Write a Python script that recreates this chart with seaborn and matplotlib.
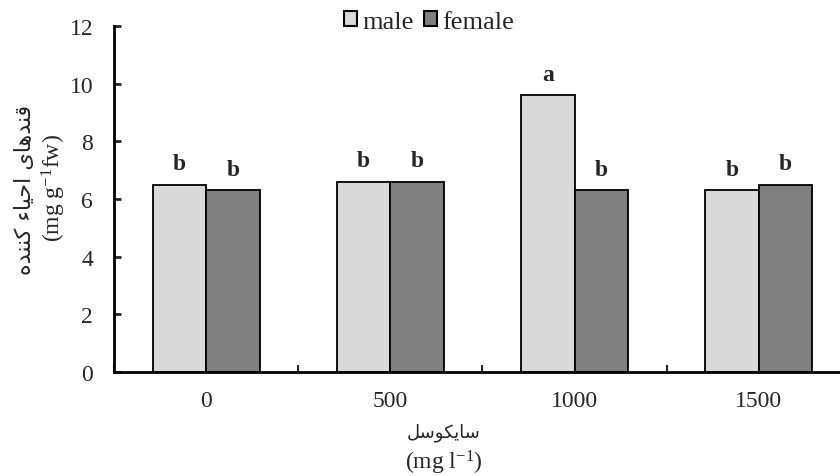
import numpy as np
import pandas as pd
import seaborn as sns
import matplotlib.pyplot as plt
from matplotlib.patches import Patch

# Data
conc = ['0', '500', '1000', '1500']
sexes = ['male', 'female']
male_vals = [6.5, 6.6, 9.6, 6.3]
female_vals = [6.3, 6.6, 6.3, 6.5]
male_letters = ['b', 'b', 'a', 'b']
female_letters = ['b', 'b', 'b', 'b']
bar_colors = ['#d9d9d9', '#808080']

ylabel_fa = 'قندهای احیاء کننده'
ylabel_en = '(mg g$^{-1}$fw)'
xlabel_fa = 'سایکوسل'
xlabel_en = '(mg l$^{-1}$)'

# matplotlib has no bidi/shaping, so map Persian letters to their
# presentation forms and reverse for left-to-right drawing
FORMS = {
    'ا': ('\uFE8D', '\uFE8E', None, None),
    'ء': ('\uFE80', None, None, None),
    'ح': ('\uFEA1', '\uFEA2', '\uFEA3', '\uFEA4'),
    'د': ('\uFEA9', '\uFEAA', None, None),
    'س': ('\uFEB1', '\uFEB2', '\uFEB3', '\uFEB4'),
    'ق': ('\uFED5', '\uFED6', '\uFED7', '\uFED8'),
    'ل': ('\uFEDD', '\uFEDE', '\uFEDF', '\uFEE0'),
    'ن': ('\uFEE5', '\uFEE6', '\uFEE7', '\uFEE8'),
    'ه': ('\uFEE9', '\uFEEA', '\uFEEB', '\uFEEC'),
    'و': ('\uFEED', '\uFEEE', None, None),
    'ی': ('\uFBFC', '\uFBFD', '\uFBFE', '\uFBFF'),
    'ک': ('\uFB8E', '\uFB8F', '\uFB90', '\uFB91'),
}


def shape_fa(text):
    out = []
    n = len(text)
    for i, c in enumerate(text):
        if c not in FORMS:
            out.append(c)
            continue
        f = FORMS[c]
        prev = text[i - 1] if i > 0 else None
        nxt = text[i + 1] if i < n - 1 else None
        conn_prev = prev in FORMS and FORMS[prev][2] is not None and f[1] is not None
        conn_next = nxt in FORMS and f[2] is not None and FORMS[nxt][1] is not None
        if conn_prev and conn_next:
            out.append(f[3])
        elif conn_prev:
            out.append(f[1])
        elif conn_next:
            out.append(f[2])
        else:
            out.append(f[0])
    return ''.join(out)[::-1]


df = pd.DataFrame({
    'conc': conc * 2,
    'sex': [sexes[0]] * len(conc) + [sexes[1]] * len(conc),
    'value': male_vals + female_vals,
})

sns.set_style('white')
plt.rcParams['font.family'] = ['Liberation Serif', 'DejaVu Sans']
plt.rcParams['mathtext.fontset'] = 'custom'
plt.rcParams['mathtext.rm'] = 'Liberation Serif'
plt.rcParams['mathtext.it'] = 'Liberation Serif:italic'
plt.rcParams['mathtext.bf'] = 'Liberation Serif:bold'

fig = plt.figure(figsize=(8.4, 4.77), dpi=100)
ax = fig.add_axes([0.1357, 0.218, 0.8774, 0.725])

sns.barplot(data=df, x='conc', y='value', hue='sex', order=conc, hue_order=sexes,
            palette=bar_colors, width=0.58, edgecolor='black', linewidth=1.3,
            saturation=1, legend=False, ax=ax)

for cont, letters in zip(ax.containers, [male_letters, female_letters]):
    ax.bar_label(cont, labels=letters, padding=7.5, fontsize=17, fontweight='bold')

ax.set_ylim(0, 12)
ax.set_yticks(np.arange(0, 13, 2))
ax.set_xlim(-0.5, 3.5)
ax.set_xticks(np.arange(-0.5, 4, 1), minor=True)
ax.tick_params(axis='x', which='major', length=0, pad=13, labelsize=17)
ax.tick_params(axis='x', which='minor', direction='in', length=5, width=1.5, bottom=True)
ax.tick_params(axis='y', direction='in', length=5, width=2, left=True, pad=15, labelsize=17)
ax.set_xlabel('')
ax.set_ylabel('')

sns.despine(ax=ax)
for s in ['left', 'bottom']:
    ax.spines[s].set_linewidth(2)
    ax.spines[s].set_color('black')

handles = [Patch(facecolor=c, edgecolor='black', linewidth=1.5) for c in bar_colors]
fig.legend(handles, sexes, loc='center', bbox_to_anchor=(429 / 840, 1 - 23 / 477), ncol=2,
           frameon=False, fontsize=19, handlelength=0.5, handleheight=0.5,
           handletextpad=0.2, columnspacing=0.4, borderpad=0)

fig.text(25 / 840, 1 - 190 / 477, shape_fa(ylabel_fa), rotation=90, ha='center', va='center',
         fontsize=16, family='DejaVu Sans')
fig.text(54 / 840, 1 - 188 / 477, ylabel_en, rotation=90, ha='center', va='center', fontsize=17)
fig.text(444 / 840, 1 - 433 / 477, shape_fa(xlabel_fa), ha='center', va='center',
         fontsize=13, family='DejaVu Sans')
fig.text(444 / 840, 1 - 463 / 477, xlabel_en, ha='center', va='center', fontsize=17)

fig.savefig('out.png', dpi=100)
